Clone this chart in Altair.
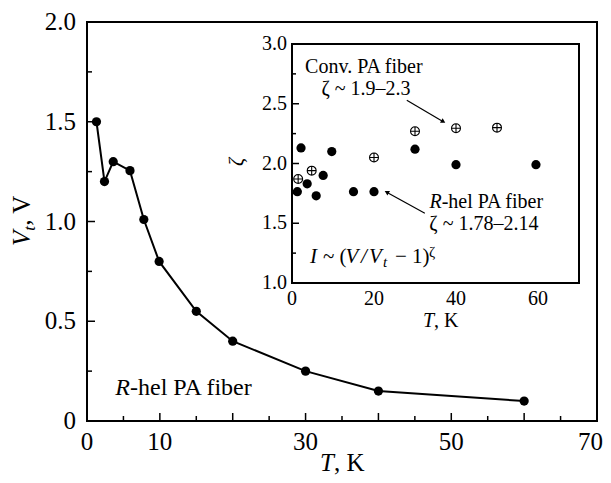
import altair as alt
import pandas as pd

FONT = "Liberation Serif"

# ---------------- data ----------------
main_T = [1.3, 2.4, 3.6, 5.9, 7.8, 9.9, 15.0, 20.0, 30.0, 40.0, 60.0]
main_V = [1.50, 1.20, 1.30, 1.255, 1.01, 0.80, 0.55, 0.40, 0.25, 0.15, 0.10]

rhel_T = [1.3, 2.2, 3.7, 5.9, 7.6, 9.7, 15.0, 20.0, 30.0, 40.0, 59.5]
rhel_z = [1.764, 2.13, 1.83, 1.73, 1.90, 2.10, 1.764, 1.764, 2.12, 1.99, 1.99]

conv_T = [1.5, 4.8, 20.0, 30.0, 40.0, 50.0]
conv_z = [1.87, 1.94, 2.05, 2.27, 2.295, 2.30]

main_x_labels = [0, 10, 30, 50]
main_x_label_text = ["0", "10", "30", "50"]
main_x_last = [70]
main_x_last_text = ["70"]
main_y_labels = [0, 0.5, 1.0, 1.5, 2.0]
main_y_label_text = ["0", "0.5", "1.0", "1.5", "2.0"]
main_x_major = [10, 20, 30, 40, 50, 60]
main_x_minor = [5, 15, 25, 35, 45, 55, 65]
main_y_major = [0.5, 1.0, 1.5]
main_y_minor = [0.25, 0.75, 1.25, 1.75]

inset_x_labels = [0, 20, 40, 60]
inset_x_label_text = ["0", "20", "40", "60"]
inset_y_labels = [1.0, 1.5, 2.0, 2.5, 3.0]
inset_y_label_text = ["1.0", "1.5", "2.0", "2.5", "3.0"]
inset_y_major = [1.5, 2.0, 2.5]
inset_y_minor = [1.25, 1.75, 2.25, 2.75]

# arrows (inset data coordinates): start -> end
arrow_T0 = [28.0, 32.4]
arrow_z0 = [2.53, 1.583]
arrow_T1 = [36.9, 23.1]
arrow_z1 = [2.35, 1.76]
arrow_angle = [30.5, 209]

# formula pieces: text, style, size, dx, dy
formula = [
    ("I", "italic", 21, 0, 0),
    ("~", "normal", 21, 13, 0),
    ("(", "normal", 21, 29.5, 0),
    ("V", "italic", 21, 35.5, 0),
    ("/", "italic", 21, 51, 0),
    ("V", "italic", 21, 59, 0),
    ("t", "italic", 15, 73, 4),
    ("−", "normal", 21, 85, 0),
    ("1)", "normal", 21, 102, 0),
    ("ζ", "normal", 15, 119, -6),
]

# ---------------- layout ----------------
W, H = 510, 399
xs_main = alt.Scale(domain=[0, 70], nice=False, zero=False)
ys_main = alt.Scale(domain=[0, 2], nice=False, zero=False)
xs_in = alt.Scale(domain=[0, 70], range=[205, 492], nice=False, zero=False)
ys_in = alt.Scale(domain=[1, 3], range=[261, 22], nice=False, zero=False)


def MX(field="T"):
    return alt.X(f"{field}:Q", scale=xs_main, axis=None)


def MY(field="V"):
    return alt.Y(f"{field}:Q", scale=ys_main, axis=None)


def IX(field="T"):
    return alt.X(f"{field}:Q", scale=xs_in, axis=None)


def IY(field="z"):
    return alt.Y(f"{field}:Q", scale=ys_in, axis=None)


one = pd.DataFrame({"k": [0]})

# ---------------- main chart ----------------
main_df = pd.DataFrame({"T": main_T, "V": main_V})

main_line = alt.Chart(main_df).mark_line(color="black", strokeWidth=2).encode(
    x=MX(), y=MY())
main_pts = alt.Chart(main_df).mark_circle(color="black", size=85, opacity=1).encode(
    x=MX(), y=MY())

main_xt_major = alt.Chart(pd.DataFrame({"T": main_x_major})).mark_rule(
    color="black", strokeWidth=1.5, y2Offset=-8).encode(
    x=MX(), y=alt.YDatum(0, scale=ys_main, axis=None), y2=alt.Y2Datum(0))
main_xt_minor = alt.Chart(pd.DataFrame({"T": main_x_minor})).mark_rule(
    color="black", strokeWidth=1.5, y2Offset=-5).encode(
    x=MX(), y=alt.YDatum(0, scale=ys_main, axis=None), y2=alt.Y2Datum(0))
main_yt_major = alt.Chart(pd.DataFrame({"V": main_y_major})).mark_rule(
    color="black", strokeWidth=1.5, x2Offset=8).encode(
    y=MY(), x=alt.XDatum(0, scale=xs_main, axis=None), x2=alt.X2Datum(0))
main_yt_minor = alt.Chart(pd.DataFrame({"V": main_y_minor})).mark_rule(
    color="black", strokeWidth=1.5, x2Offset=5).encode(
    y=MY(), x=alt.XDatum(0, scale=xs_main, axis=None), x2=alt.X2Datum(0))

# tick labels
main_xlab = alt.Chart(pd.DataFrame({"T": main_x_labels, "s": main_x_label_text})).mark_text(
    font=FONT, fontSize=25, align="center", baseline="alphabetic", dy=29, color="black"
).encode(x=MX(), y=alt.YDatum(0, scale=ys_main, axis=None), text="s:N")
main_xlab_last = alt.Chart(pd.DataFrame({"T": main_x_last, "s": main_x_last_text})).mark_text(
    font=FONT, fontSize=25, align="right", baseline="alphabetic", dx=6, dy=29, color="black"
).encode(x=MX(), y=alt.YDatum(0, scale=ys_main, axis=None), text="s:N")
main_ylab = alt.Chart(pd.DataFrame({"V": main_y_labels, "s": main_y_label_text})).mark_text(
    font=FONT, fontSize=25, align="right", baseline="middle", dx=-11, color="black"
).encode(y=MY(), x=alt.XDatum(0, scale=xs_main, axis=None), text="s:N")

lbl_df = pd.DataFrame({"T": [5.9], "V": [0.13]})
main_lbl_R = alt.Chart(lbl_df).mark_text(
    font=FONT, fontSize=24, fontStyle="italic", align="right", baseline="alphabetic",
    color="black", text="R").encode(x=MX(), y=MY())
main_lbl_rest = alt.Chart(lbl_df).mark_text(
    font=FONT, fontSize=24, align="left", baseline="alphabetic",
    color="black", text="-hel PA fiber").encode(x=MX(), y=MY())

# axis titles (pieces for italics / subscripts)
xt_T = alt.Chart(one).mark_text(font=FONT, fontSize=25, fontStyle="italic", align="right",
                                baseline="alphabetic", color="black", text="T").encode(
    x=alt.value(247), y=alt.value(449))
xt_K = alt.Chart(one).mark_text(font=FONT, fontSize=25, align="left",
                                baseline="alphabetic", color="black", text=", K").encode(
    x=alt.value(247), y=alt.value(449))
yt_V = alt.Chart(one).mark_text(font=FONT, fontSize=25, fontStyle="italic", align="left",
                                baseline="alphabetic", angle=270, color="black", text="V").encode(
    x=alt.value(-57), y=alt.value(224))
yt_t = alt.Chart(one).mark_text(font=FONT, fontSize=17, fontStyle="italic", align="left",
                                baseline="alphabetic", angle=270, dx=15.3, dy=5,
                                color="black", text="t").encode(
    x=alt.value(-57), y=alt.value(224))
yt_rest = alt.Chart(one).mark_text(font=FONT, fontSize=25, align="left",
                                   baseline="alphabetic", angle=270, dx=20.2,
                                   color="black", text=", V").encode(
    x=alt.value(-57), y=alt.value(224))

main_layer = alt.layer(main_line, main_pts, main_xt_major, main_xt_minor,
                       main_yt_major, main_yt_minor, main_xlab, main_xlab_last, main_ylab,
                       main_lbl_R, main_lbl_rest, xt_T, xt_K, yt_V, yt_t, yt_rest)

# ---------------- inset ----------------
frame = alt.Chart(one).mark_rect(fill="white", stroke="black", strokeWidth=2).encode(
    x=alt.XDatum(0, scale=xs_in, axis=None), x2=alt.X2Datum(70),
    y=alt.YDatum(1, scale=ys_in, axis=None), y2=alt.Y2Datum(3))

in_yt_major = alt.Chart(pd.DataFrame({"z": inset_y_major})).mark_rule(
    color="black", strokeWidth=1.5, x2Offset=7).encode(
    y=IY(), x=alt.XDatum(0, scale=xs_in, axis=None), x2=alt.X2Datum(0))
in_yt_minor = alt.Chart(pd.DataFrame({"z": inset_y_minor})).mark_rule(
    color="black", strokeWidth=1.5, x2Offset=4).encode(
    y=IY(), x=alt.XDatum(0, scale=xs_in, axis=None), x2=alt.X2Datum(0))

in_xlab = alt.Chart(pd.DataFrame({"T": inset_x_labels, "s": inset_x_label_text})).mark_text(
    font=FONT, fontSize=20, align="center", baseline="alphabetic", dy=22, color="black"
).encode(x=IX(), y=alt.YDatum(1, scale=ys_in, axis=None), text="s:N")
in_ylab = alt.Chart(pd.DataFrame({"z": inset_y_labels, "s": inset_y_label_text})).mark_text(
    font=FONT, fontSize=20, align="right", baseline="middle", dx=-5, color="black"
).encode(y=IY(), x=alt.XDatum(0, scale=xs_in, axis=None), text="s:N")

rhel_df = pd.DataFrame({"T": rhel_T, "z": rhel_z})
conv_df = pd.DataFrame({"T": conv_T, "z": conv_z})
rhel_pts = alt.Chart(rhel_df).mark_circle(color="black", size=85, opacity=1).encode(
    x=IX(), y=IY())
OPLUS = "M-1,0A1,1,0,1,1,1,0A1,1,0,1,1,-1,0ZM-1,0L1,0M0,-1L0,1"
conv_pts = alt.Chart(conv_df).mark_point(shape=OPLUS, filled=False, stroke="black",
                                         strokeWidth=1.1, size=80, opacity=1).encode(
    x=IX(), y=IY())

arr_df = pd.DataFrame({"T0": arrow_T0, "z0": arrow_z0, "T1": arrow_T1,
                       "z1": arrow_z1, "ang": arrow_angle})
arr_lines = alt.Chart(arr_df).mark_rule(color="black", strokeWidth=1.2).encode(
    x=IX("T0"), y=IY("z0"), x2="T1:Q", y2="z1:Q")
arr_heads = alt.Chart(arr_df).mark_point(shape="triangle-right", filled=True,
                                         color="black", size=28, opacity=1).encode(
    x=IX("T1"), y=IY("z1"), angle=alt.Angle("ang:Q", scale=None))


def itext(T, z, s, style="normal", align="left", size=20, dx=0, dy=0):
    return alt.Chart(pd.DataFrame({"T": [T], "z": [z]})).mark_text(
        font=FONT, fontSize=size, fontStyle=style, align=align, baseline="alphabetic",
        color="black", text=s, dx=dx, dy=dy).encode(x=IX(), y=IY())


in_texts = [
    itext(3.2, 2.755, "Conv. PA fiber"),
    itext(7.2, 2.573, "ζ ~ 1.9–2.3"),
    itext(36.5, 1.625, "R", style="italic", align="right"),
    itext(36.5, 1.625, "-hel PA fiber"),
    itext(33.5, 1.44, "ζ ~ 1.78–2.14"),
] + [itext(4.4, 1.165, s, style=st, size=sz, dx=dx, dy=dy) for s, st, sz, dx, dy in formula]

ixt_T = alt.Chart(one).mark_text(font=FONT, fontSize=20, fontStyle="italic", align="right",
                                 baseline="alphabetic", color="black", text="T").encode(
    x=alt.value(347), y=alt.value(305))
ixt_K = alt.Chart(one).mark_text(font=FONT, fontSize=20, align="left",
                                 baseline="alphabetic", color="black", text=", K").encode(
    x=alt.value(347), y=alt.value(305))
iyt = alt.Chart(one).mark_text(font=FONT, fontSize=20, fontStyle="italic", align="center",
                               baseline="middle", angle=270, color="black", text="ζ").encode(
    x=alt.value(150), y=alt.value(140))

inset_layer = alt.layer(frame, in_yt_major, in_yt_minor, in_xlab, in_ylab, rhel_pts, conv_pts,
                        arr_lines, arr_heads, *in_texts, ixt_T, ixt_K, iyt)

chart = alt.layer(main_layer, inset_layer).resolve_scale(
    x="independent", y="independent"
).properties(
    width=W, height=H,
    padding={"left": 79, "top": 14, "right": 6, "bottom": 62},
    autosize=alt.AutoSizeParams(type="none"),
).configure_view(stroke="black", strokeWidth=2)

chart.save("out.html", embed_options={"renderer": "svg", "actions": False})
